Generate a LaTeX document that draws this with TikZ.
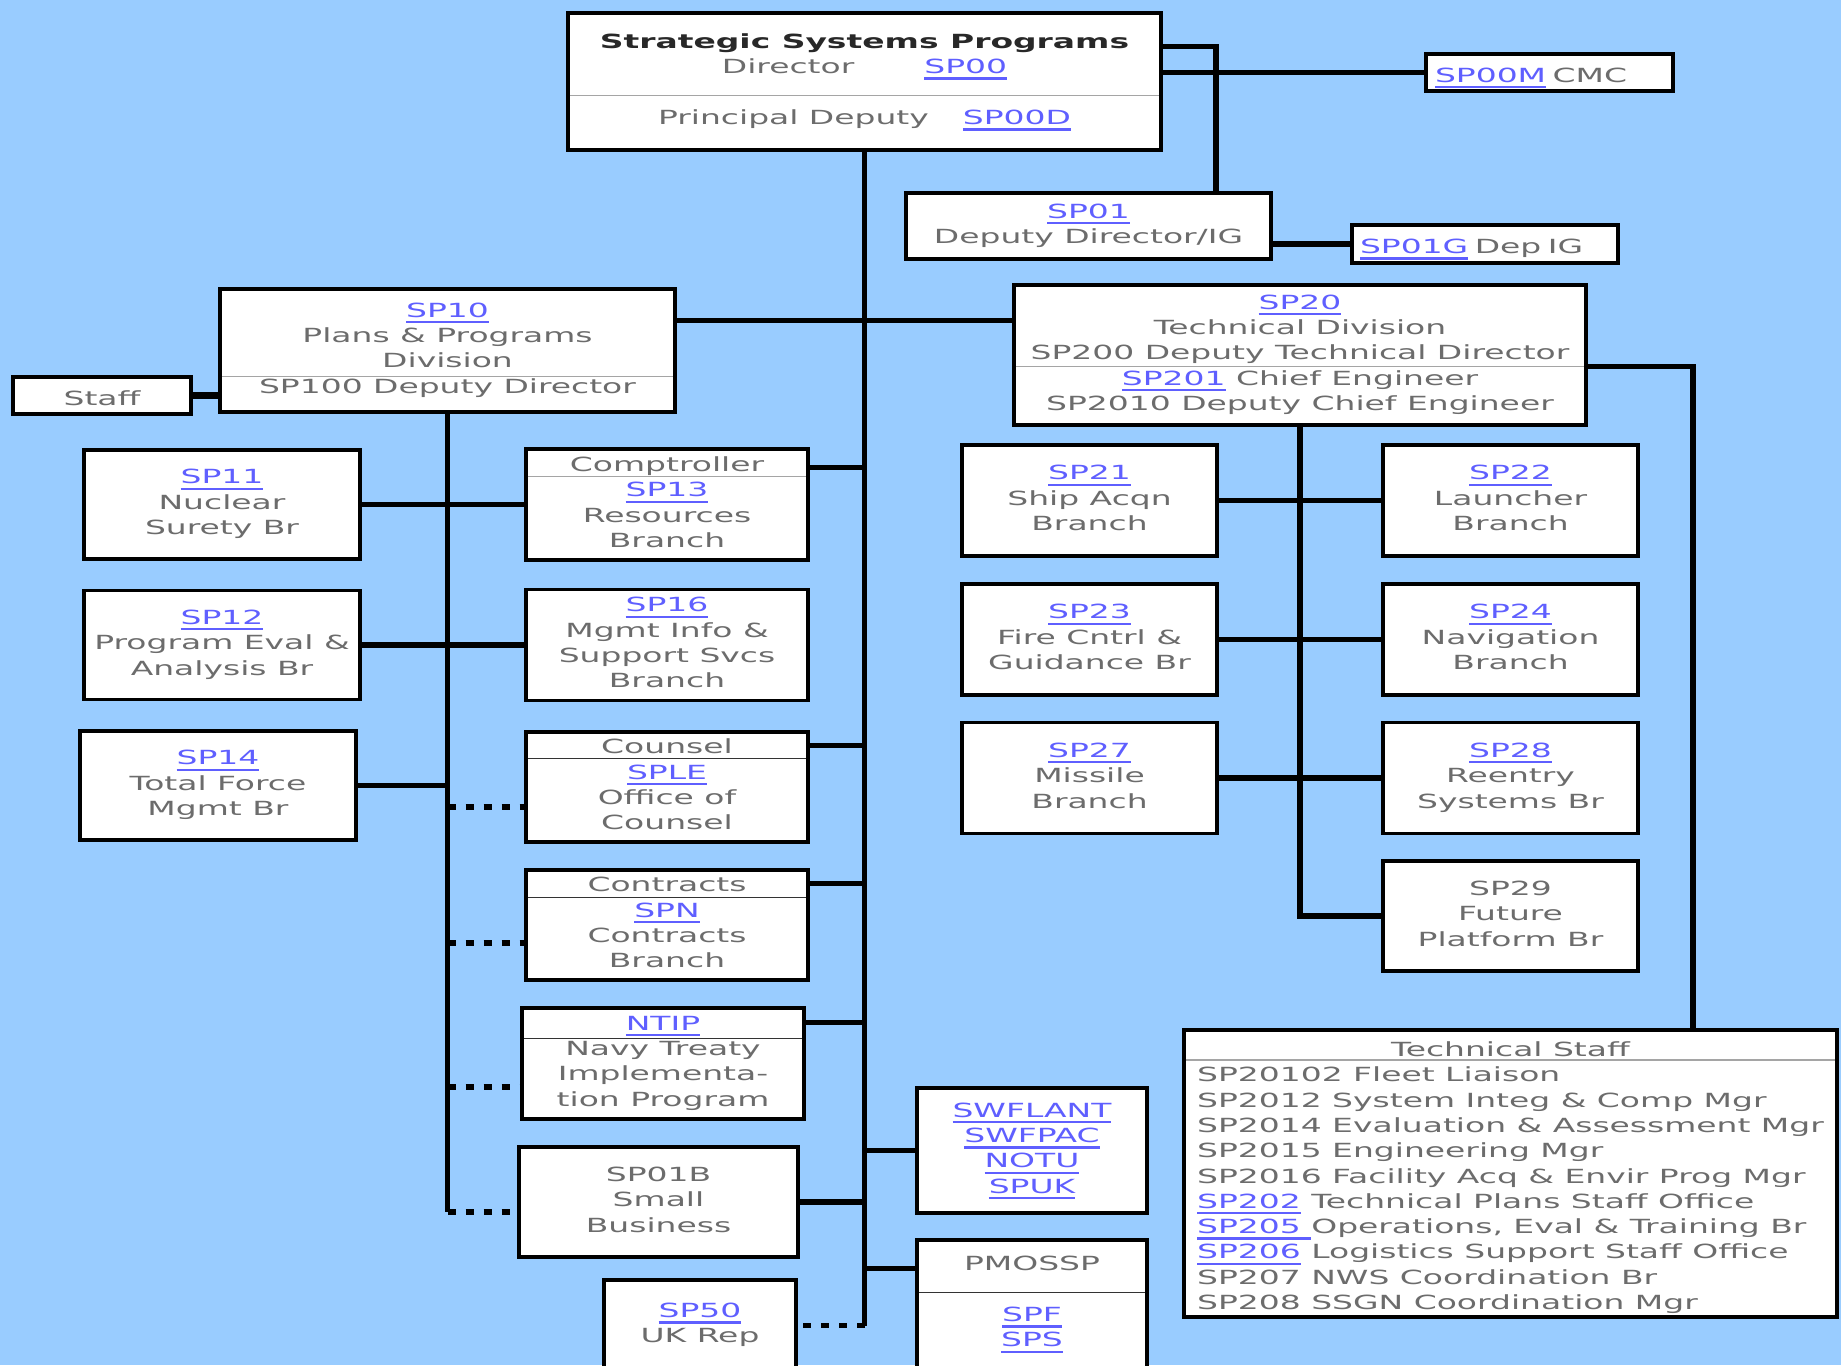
\documentclass[tikz,border=0pt]{standalone}
\usepackage{fontspec}
\setmainfont{DejaVu Sans}[FakeStretch=1.69]
\definecolor{bgblue}{RGB}{153,204,255}
\definecolor{txtgray}{RGB}{108,108,108}
\definecolor{titlegray}{RGB}{40,40,40}
\definecolor{linkblue}{RGB}{95,95,255}
\definecolor{splitgray}{RGB}{165,165,165}
\newcommand\boxfont{\fontsize{19.5}{25.3}\selectfont}
\newcommand\lnk[1]{\textcolor{linkblue}{\setbox0\hbox{#1}\rlap{\smash{\rule[-6pt]{\wd0}{2.2pt}}}\box0}}

\begin{document}
\begin{tikzpicture}[
x=1pt,y=-1pt,
box/.style={
	draw=black,
	line width=3.5pt,
	fill=white,
	inner sep=0pt,
	align=center,
	text=txtgray,
	font=\boxfont,
	execute at begin node=\rule[-5pt]{0pt}{29pt},
	execute at end node=\rule[-5pt]{0pt}{5pt}
},
sidebox/.style={box,minimum width=276pt,minimum height=109pt},
colbox/.style={box,minimum width=282pt,minimum height=111pt},
brbox/.style={box,minimum width=255pt,minimum height=111pt},
conn/.style={line width=5.5pt},
dotconn/.style={line width=5.5pt,dash pattern=on 8pt off 10pt},
split/.style={
	line width=1.5pt,
	draw=splitgray,
	shorten <=3.5pt,
	shorten >=3.5pt
},
darksplit/.style={split,draw=black!80}
]
\path[use as bounding box,fill=bgblue] (0,0) rectangle (1841,1365);

\node[box,minimum width=593pt,minimum height=137pt] (sp00) at (864.5,81.5)
{{\bfseries\color{titlegray}Strategic Systems Programs}\\Director\hspace{70pt}\lnk{SP00}\\[25.7pt]Principal Deputy\hspace{34pt}\lnk{SP00D}};
\node[box,minimum width=247pt,minimum height=37pt,text width=229pt,align=left] (sp00m) at (1549.5,72.5) {\lnk{SP00M} CMC};
\node[box,minimum width=365pt,minimum height=66pt] (sp01) at (1088.5,226) {\lnk{SP01}\\Deputy Director/IG};
\node[box,minimum width=266pt,minimum height=38pt,text width=250pt,align=left] (sp01g) at (1485,244) {\lnk{SP01G} Dep IG};

\node[box,minimum width=455pt,minimum height=123pt] (sp10) at (447.5,350.5)
{\lnk{SP10}\\Plans \& Programs\\Division\\SP100 Deputy Director};
\node[box,minimum width=178pt,minimum height=37pt] (staff) at (102,395.5) {Staff};
\node[box,minimum width=572pt,minimum height=140pt] (sp20) at (1300,355)
{\lnk{SP20}\\Technical Division\\SP200 Deputy Technical Director\\\lnk{SP201} Chief Engineer\\SP2010 Deputy Chief Engineer};

\foreach \n/\x/\y/\desc in {11/222/504.5/Nuclear\\Surety Br,12/222/645/Program Eval \&\\Analysis Br,14/218/785.5/Total Force\\Mgmt Br}
\node[sidebox] (sp\n) at (\x,\y) {\lnk{SP\n}\\\desc};

\node[colbox] (sp13) at (667,504.5) {Comptroller\\\lnk{SP13}\\Resources\\Branch};
\node[colbox] (sp16) at (667,645) {\lnk{SP16}\\Mgmt Info \&\\Support Svcs\\Branch};
\node[colbox,minimum height=110pt] (sple) at (667,787) {Counsel\\\lnk{SPLE}\\Office of\\Counsel};
\node[colbox,minimum height=110pt] (spn) at (667,925) {Contracts\\\lnk{SPN}\\Contracts\\Branch};
\node[colbox] (ntip) at (663,1063.5) {\lnk{NTIP}\\Navy Treaty\\Implementa-\\tion Program};
\node[colbox,minimum width=279pt,minimum height=110pt] (sp01b) at (658.5,1202) {SP01B\\Small\\Business};
\node[box,minimum width=192pt,minimum height=91pt] (sp50) at (700,1325.5) {\lnk{SP50}\\UK Rep};

\node[box,minimum width=230pt,minimum height=125pt] (swf) at (1032,1150.5)
{\lnk{SWFLANT}\\\lnk{SWFPAC}\\\lnk{NOTU}\\\lnk{SPUK}};
\node[box,minimum width=230pt,minimum height=128pt] (pmo) at (1032,1304) {PMOSSP\\[25.7pt]\lnk{SPF}\\\lnk{SPS}};

\foreach \n/\y/\desc in {21/500.5/Ship Acqn\\Branch,23/639.5/Fire Cntrl \&\\Guidance Br,27/778/Missile\\Branch}
\node[brbox] (sp\n) at (1089.5,\y) {\lnk{SP\n}\\\desc};
\foreach \n/\y/\desc in {22/500.5/Launcher\\Branch,24/639.5/Navigation\\Branch,28/778/Reentry\\Systems Br}
\node[brbox] (sp\n) at (1510.5,\y) {\lnk{SP\n}\\\desc};
\node[brbox,minimum height=110pt] (sp29) at (1510.5,916) {SP29\\Future\\Platform Br};

\node[box,minimum width=653pt,minimum height=287pt] (tstaff) at (1510.5,1173.5)
{\begin{tabular}{@{}l@{}}
\multicolumn{1}{@{}c@{}}{\rule{0pt}{26.7pt}Technical Staff}\\
SP20102 Fleet Liaison\\
SP2012 System Integ \& Comp Mgr\\
SP2014 Evaluation \& Assessment Mgr\\
SP2015 Engineering Mgr\\
SP2016 Facility Acq \& Envir Prog Mgr\\
\lnk{SP202} Technical Plans Staff Office\\
\lnk{SP205\ }Operations, Eval \& Training Br\\
\lnk{SP206} Logistics Support Staff Office\\
SP207 NWS Coordination Br\\
SP208 SSGN Coordination Mgr
\end{tabular}};

\foreach \b/\d in {sp00/84,sp10/89,sp20/83,sp13/29,tstaff/32}
\draw[split] ([yshift=-\d pt]\b.north west) -- ([yshift=-\d pt]\b.north east);
\foreach \b/\d in {sple/28,spn/29,ntip/32,pmo/54}
\draw[darksplit] ([yshift=-\d pt]\b.north west) -- ([yshift=-\d pt]\b.north east);

\draw[conn] ([yshift=-35pt]sp00.north east) -| ([xshift=-57pt]sp01.north east);
\draw[conn] (sp00m) -- (sp00m -| sp00.east);
\draw[conn] (sp01g) -- (sp01g -| sp01.east);
\draw[conn] (sp00.south) -- (sp00.south |- sp50.east) coordinate (mainend);
\draw[dotconn] (mainend) -- (sp50);
\draw[conn] ([yshift=-33pt]sp10.north east) -- ([yshift=-33pt]sp10.north east -| sp20.west);
\draw[conn,line width=7pt] (staff) -- (staff -| sp10.west);

\draw[conn] (sp10.south) -- ([yshift=-10pt]sp10.south |- sp01b.west) coordinate (lowend);
\draw[dotconn] (lowend) -- ([yshift=-10pt]sp01b.west);
\foreach \b/\d in {sple/20,spn/18,ntip/23.5}
\draw[dotconn] ([yshift=-\d pt]\b.west -| sp10.south) -- ([yshift=-\d pt]\b.west);
\draw[conn] (sp11) -- (sp13);
\draw[conn] (sp12) -- (sp16);
\draw[conn] (sp14) -- (sp14 -| sp10.south);

\foreach \b/\d in {sp13/20,sple/15,spn/15,ntip/16}
\draw[conn] ([yshift=-\d pt]\b.north east) -- ([yshift=-\d pt]\b.north east -| sp00.south);
\draw[conn] (sp01b) -- (sp01b -| sp00.south);
\draw[conn] (swf) -- (swf -| sp00.south);
\draw[conn] ([yshift=-30pt]pmo.north west) -- ([yshift=-30pt]pmo.north west -| sp00.south);

\draw[conn] ([yshift=-83pt]sp20.north east) -| ([xshift=-146pt]tstaff.north east);
\draw[conn] (sp20.south) |- (sp29);
\foreach \a/\b in {21/22,23/24,27/28}
\draw[conn] (sp\a) -- (sp\b);
\end{tikzpicture}
\end{document}
